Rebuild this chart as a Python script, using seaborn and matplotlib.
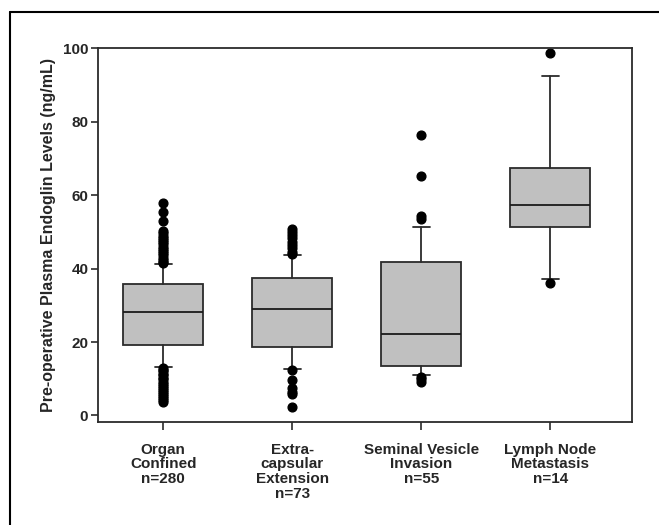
import matplotlib
matplotlib.use("Agg")
import matplotlib.pyplot as plt
import seaborn as sns
from matplotlib.lines import Line2D

# ---- data ----
categories = ["Organ\nConfined\nn=280", "Extra-\ncapsular\nExtension\nn=73",
              "Seminal Vesicle\nInvasion\nn=55", "Lymph Node\nMetastasis\nn=14"]
q1 = [19.2, 18.6, 13.5, 51.4]
medians = [28.1, 28.9, 22.3, 57.2]
q3 = [35.8, 37.4, 41.7, 67.4]
whisker_low = [13.3, 12.6, 11.0, 37.1]
whisker_high = [41.3, 43.7, 51.2, 92.5]
fliers_organ = [57.8, 55.4, 53.0, 50.2, 49.6, 49.0, 48.4, 47.8, 47.2, 46.6, 46.0,
                45.4, 44.8, 44.2, 43.6, 43.0, 42.4, 41.9, 41.5,
                13.0, 12.5, 12.0, 11.4, 10.9, 10.3, 9.8, 9.2, 8.7, 8.1, 7.6,
                7.0, 6.5, 5.9, 5.4, 4.8, 4.3, 3.8]
fliers_extra = [50.9, 50.0, 49.1, 48.2, 47.3, 46.4, 45.5, 44.6, 43.9,
                12.4, 9.6, 7.4, 6.3, 5.8, 2.3]
fliers_seminal = [76.5, 65.1, 54.3, 53.5, 10.6, 9.8, 9.0]
fliers_lymph = [98.6, 36.1]
fliers = [fliers_organ, fliers_extra, fliers_seminal, fliers_lymph]
ytick_values = [0, 20, 40, 60, 80, 100]

sns.set_style("ticks")
plt.rcParams["font.family"] = ["Liberation Sans", "DejaVu Sans"]
plt.rcParams["font.weight"] = "bold"

fig = plt.figure(figsize=(6.59, 5.25), dpi=100)
ax = fig.add_axes([98 / 659, 1 - 421.7 / 525, (632 - 98) / 659, (421.7 - 48.3) / 525])

stats = []
for i in range(len(categories)):
    stats.append(dict(med=medians[i], q1=q1[i], q3=q3[i],
                      whislo=whisker_low[i], whishi=whisker_high[i],
                      fliers=fliers[i], label=categories[i]))

line_c = "#2b2b2b"
ax.bxp(stats, positions=range(len(categories)), widths=0.62, patch_artist=True,
       showfliers=True,
       boxprops=dict(facecolor="#c0c0c0", edgecolor=line_c, linewidth=1.3),
       medianprops=dict(color="#1a1a1a", linewidth=1.3),
       whiskerprops=dict(color=line_c, linewidth=1.3),
       capprops=dict(color=line_c, linewidth=1.3),
       capwidths=0.13,
       flierprops=dict(marker="o", markerfacecolor="black", markeredgecolor="black",
                       markersize=6.3, linestyle="none"))

ax.set_xlim(-0.506, 3.633)
ax.set_ylim(-1.7, 100)
ax.set_yticks(ytick_values)
ax.set_yticklabels([str(v) for v in ytick_values], fontsize=11, fontweight="bold")
ax.set_xticks(range(len(categories)))
ax.set_xticklabels(categories, fontsize=11, fontweight="bold", linespacing=1.08)
ax.tick_params(axis="y", length=5, width=1.2, color=line_c, pad=2)
ax.tick_params(axis="x", length=6, width=1.2, color=line_c, pad=9)
for s in ax.spines.values():
    s.set_visible(True)
    s.set_linewidth(1.3)
    s.set_color(line_c)
ax.set_ylabel("Pre-operative Plasma Endoglin Levels (ng/mL)", fontsize=11.5,
              fontweight="bold", labelpad=5)

# outer frame lines (top and left, as in the cropped reference)
fig.add_artist(Line2D([10 / 659, 10 / 659], [0, 1 - 12 / 525], transform=fig.transFigure,
                      color="black", linewidth=1.5))
fig.add_artist(Line2D([10 / 659, 1], [1 - 12 / 525, 1 - 12 / 525], transform=fig.transFigure,
                      color="black", linewidth=1.5))

fig.savefig("out.png", dpi=100)
